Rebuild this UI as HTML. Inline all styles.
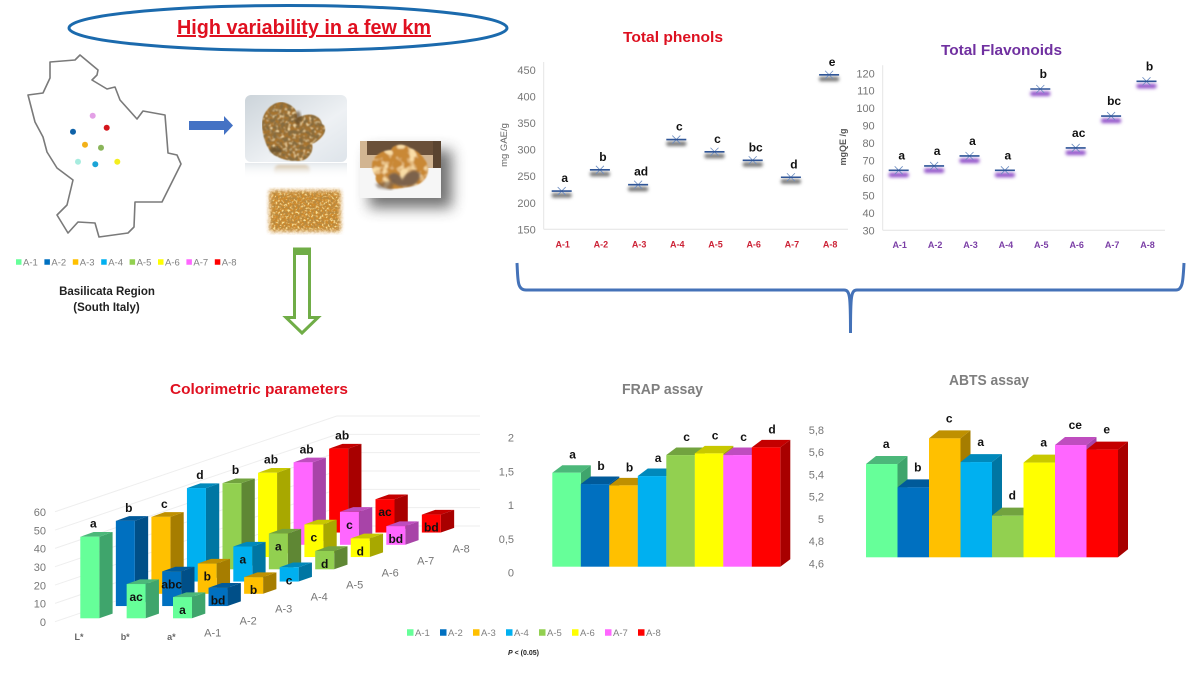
<!DOCTYPE html>
<html lang="en">
<head>
<meta charset="utf-8">
<title>High variability in a few km</title>
<style>
html,body{margin:0;padding:0;background:#fff;width:1200px;height:675px;overflow:hidden}
svg{display:block;font-family:"Liberation Sans",sans-serif}
.tick{fill:#767676;font-size:11px}
.leg{fill:#808080;font-size:9.5px}
.sig{fill:#111;font-size:12px;font-weight:700;text-anchor:middle}
</style>
</head>
<body>
<svg id="root" xmlns="http://www.w3.org/2000/svg" width="1200" height="675" viewBox="0 0 1200 675">
<defs>
<filter id="soft" x="-30%" y="-200%" width="160%" height="500%"><feGaussianBlur stdDeviation="1.5"/></filter>
<filter id="blur4" x="-40%" y="-40%" width="180%" height="180%"><feGaussianBlur stdDeviation="7"/></filter>
<filter id="blur1" x="-10%" y="-10%" width="120%" height="120%"><feGaussianBlur stdDeviation="1.3"/></filter>
<filter id="crumb" x="0" y="0" width="100%" height="100%">
<feTurbulence type="fractalNoise" baseFrequency="0.26" numOctaves="2" seed="4" result="n"/>
<feColorMatrix in="n" type="matrix" values="0 0 0 0 .24  0 0 0 0 .15  0 0 0 0 .05  2.6 2.6 0 0 -2.15" result="d"/>
<feComposite in="d" in2="SourceGraphic" operator="in" result="dd"/>
<feTurbulence type="fractalNoise" baseFrequency="0.33" numOctaves="1" seed="17" result="m"/>
<feColorMatrix in="m" type="matrix" values="0 0 0 0 .88  0 0 0 0 .68  0 0 0 0 .36  3 3 0 0 -3" result="l"/>
<feComposite in="l" in2="SourceGraphic" operator="in" result="ll"/>
<feMerge><feMergeNode in="SourceGraphic"/><feMergeNode in="ll"/><feMergeNode in="dd"/></feMerge>
<feGaussianBlur stdDeviation=".45"/>
</filter>
<filter id="lump" x="-5%" y="-5%" width="110%" height="110%">
<feTurbulence type="fractalNoise" baseFrequency="0.12" numOctaves="2" seed="8" result="n"/>
<feColorMatrix in="n" type="matrix" values="0 0 0 0 .95  0 0 0 0 .72  0 0 0 0 .38  3.2 3.2 0 0 -3.1" result="l"/>
<feComposite in="l" in2="SourceGraphic" operator="in" result="ll"/>
<feMerge><feMergeNode in="SourceGraphic"/><feMergeNode in="ll"/></feMerge>
<feGaussianBlur stdDeviation=".7"/>
</filter>
<filter id="grain" x="-10%" y="-10%" width="120%" height="120%">
<feGaussianBlur in="SourceGraphic" stdDeviation="2" result="b"/>
<feTurbulence type="fractalNoise" baseFrequency="0.42" numOctaves="2" seed="9" result="n"/>
<feColorMatrix in="n" type="matrix" values="0 0 0 0 .48  0 0 0 0 .25  0 0 0 0 .05  3.4 3.4 0 0 -3" result="d"/>
<feComposite in="d" in2="b" operator="in" result="dd"/>
<feTurbulence type="fractalNoise" baseFrequency="0.5" numOctaves="1" seed="21" result="m"/>
<feColorMatrix in="m" type="matrix" values="0 0 0 0 .97  0 0 0 0 .76  0 0 0 0 .30  3.4 3.4 0 0 -3.3" result="l"/>
<feComposite in="l" in2="b" operator="in" result="ll"/>
<feMerge><feMergeNode in="b"/><feMergeNode in="ll"/><feMergeNode in="dd"/></feMerge>
</filter>
<linearGradient id="plate" x1="0" y1="0" x2="1" y2="1"><stop offset="0" stop-color="#ccd4da"/><stop offset=".6" stop-color="#eef1f4"/><stop offset="1" stop-color="#dee4ea"/></linearGradient>
<linearGradient id="fade" x1="0" y1="0" x2="0" y2="1"><stop offset="0" stop-color="#dfe4e8" stop-opacity=".8"/><stop offset="1" stop-color="#fff" stop-opacity="0"/></linearGradient>
<linearGradient id="fadeTan" x1="0" y1="0" x2="0" y2="1"><stop offset="0" stop-color="#cdb48f" stop-opacity=".8"/><stop offset="1" stop-color="#fff" stop-opacity="0"/></linearGradient>
<clipPath id="clip-photo3"><rect x="360" y="141" width="81" height="57"/></clipPath>
</defs>

<ellipse cx="288" cy="28" rx="219" ry="22.5" fill="none" stroke="#1b6aad" stroke-width="3"/>
<text x="177" y="34" textLength="254" lengthAdjust="spacingAndGlyphs" font-size="20" font-weight="700" fill="#e01020" text-decoration="underline">High variability in a few km</text>

<g>
<polygon points="50,62 75,60 80,55 98,70 97,75 92,80 107,89 115,87 120,100 137,119 143,111 165,115 167,140 168,153 177,155 181,164 162,202 135,202 134,227 128,233 99,237 95,223 78,222 68,233 57,215 67,205 73,180 57,168 47,152 43,137 35,122 28,95 43,93 50,78" fill="#fff" stroke="#7a7a7a" stroke-width="1.6" stroke-linejoin="round"/>
<circle cx="92.7" cy="115.7" r="3" fill="#e3a0e6"/>
<circle cx="106.7" cy="127.7" r="3" fill="#d4151c"/>
<circle cx="73" cy="131.7" r="3" fill="#0f62a8"/>
<circle cx="85" cy="144.7" r="3" fill="#f2b11a"/>
<circle cx="101" cy="147.7" r="3" fill="#8ab55a"/>
<circle cx="78" cy="161.7" r="3" fill="#a7ecdf"/>
<circle cx="95.3" cy="164.3" r="3" fill="#1ba4d6"/>
<circle cx="117.3" cy="161.7" r="3" fill="#f4ee1e"/>
</g>
<g id="map-legend"></g>
<text x="107" y="295" text-anchor="middle" font-size="11.5" font-weight="700" fill="#222">Basilicata Region</text>
<text x="106.5" y="311" text-anchor="middle" font-size="11.5" font-weight="700" fill="#222">(South Italy)</text>

<polygon points="189,121 224,121 224,116 233,125.5 224,135 224,130 189,130" fill="#4472c4"/>

<g>
<rect x="245" y="95" width="102" height="67" rx="6" fill="url(#plate)"/>
<g filter="url(#crumb)">
<path d="M262 125 C262 112 272 102 282 102 C290 104 298 108 297 118 C308 112 320 114 322 124 C330 128 322 140 312 144 C314 152 308 162 296 161 C286 161 280 158 274 155 C268 150 263 140 262 125Z" fill="#a8752e"/>
</g>
<ellipse cx="298" cy="118" rx="3" ry="7" fill="#5b4322" opacity=".65" filter="url(#blur1)"/>
<ellipse cx="276" cy="150" rx="6" ry="3" fill="#5b4a2a" opacity=".7" filter="url(#blur1)"/>
<rect x="245" y="163" width="102" height="16" fill="url(#fade)"/>
<rect x="274" y="165" width="36" height="11" rx="5" fill="url(#fadeTan)" filter="url(#blur1)"/>
</g>
<g>
<rect x="369" y="150" width="83" height="58" fill="#3e3e3e" opacity=".72" filter="url(#blur4)"/>
<g clip-path="url(#clip-photo3)">
<rect x="360" y="141" width="81" height="57" fill="#f6f6f6"/>
<rect x="360" y="141" width="81" height="27" fill="#d2b592"/>
<rect x="367" y="141" width="66" height="14" fill="#6a5039"/>
<rect x="433" y="141" width="8" height="27" fill="#5a4430"/>
<path d="M373 160 C378 152 386 150 391 150 C393 144 404 143 410 148 C418 150 430 162 428 171 C428 178 420 186 412 186 C404 188 392 190 386 188 C380 186 374 182 376 176 C372 172 371 165 373 160Z" fill="#c98836" filter="url(#lump)"/>
<path d="M388 176 C394 170 400 174 402 180 C408 170 416 168 420 174 C420 182 414 186 408 186 C400 187 392 186 388 176Z" fill="#7b624c" filter="url(#blur1)"/>
<path d="M375 184 L395 180 L392 190 L378 188Z" fill="#6e5a48" opacity=".6" filter="url(#blur1)"/>
</g>
</g>
<g>
<rect x="270" y="191" width="70" height="40" fill="#d08a2c" filter="url(#grain)"/>
</g>

<g>
<path d="M294.5 249 H309.5 V317.5 H318 L302 333 L286 317.5 H294.5 Z" fill="#fff" stroke="#70ad47" stroke-width="3"/>
<rect x="293" y="248" width="18" height="7" fill="#70ad47"/>
</g>

<path d="M517 263 C518 280 517 290 526 290 H844 C850 290 850.5 296 850.5 333 C850.5 296 851 290 857 290 H1176 C1183 290 1183 280 1184 263" fill="none" stroke="#4472b8" stroke-width="3"/>

<text x="623" y="42" textLength="100" lengthAdjust="spacingAndGlyphs" font-size="15" font-weight="700" fill="#dd1020">Total phenols</text>
<text transform="translate(507 145) rotate(-90)" text-anchor="middle" font-size="9.5" fill="#666">mg GAE/g</text>
<g id="phenols-chart"></g>

<text x="941" y="55" textLength="121" lengthAdjust="spacingAndGlyphs" font-size="15" font-weight="700" fill="#7030a0">Total Flavonoids</text>
<text transform="translate(846 147) rotate(-90)" text-anchor="middle" font-size="9" font-weight="700" fill="#555">mgQE /g</text>
<g id="flavonoids-chart"></g>

<text x="170" y="394" textLength="178" lengthAdjust="spacingAndGlyphs" font-size="15" font-weight="700" fill="#e01020">Colorimetric parameters</text>
<g id="colorimetric-chart"></g>

<text x="622" y="394" textLength="81" lengthAdjust="spacingAndGlyphs" font-size="14.5" font-weight="700" fill="#7f7f7f">FRAP assay</text>
<g id="frap-chart"></g>

<text x="949" y="385" textLength="80" lengthAdjust="spacingAndGlyphs" font-size="14.5" font-weight="700" fill="#7f7f7f">ABTS assay</text>
<g id="abts-chart"></g>

<g id="bottom-legend"></g>
<text x="508" y="655" font-size="7" font-weight="700" fill="#222"><tspan font-style="italic">P</tspan> &lt; (0.05)</text>
</svg>

<script>
const categories = ['A-1','A-2','A-3','A-4','A-5','A-6','A-7','A-8'];
const phenolValues = [222,262,234,319,296,280,248,441];
const phenolLetters = ['a','b','ad','c','c','bc','d','e'];
const phenolTicks = [150,200,250,300,350,400,450];
const flavonoidValues = [64.4,66.9,72.6,64.4,111,77.2,95.5,115.4];
const flavonoidLetters = ['a','a','a','a','b','ac','bc','b'];
const flavonoidTicks = [30,40,50,60,70,80,90,100,110,120];
const frapValues = [5.446,5.344,5.332,5.416,5.605,5.62,5.605,5.674];
const frapLetters = ['a','b','b','a','c','c','c','d'];
const frapTicks = [4.6,4.8,5,5.2,5.4,5.6,5.8];
const abtsValues = [5.312,5.134,5.508,5.327,4.918,5.323,5.457,5.422];
const abtsLetters = ['a','b','c','a','d','a','ce','e'];
const lValues = [44.5,46.5,42,51,47,46,45,45.8];
const lLetters = ['a','b','c','d','b','ab','ab','ab'];
const bValues = [18.7,18.9,16.5,19.1,19.5,17.8,18,18.2];
const bLetters = ['ac','abc','b','a','a','c','c','ac'];
const aValues = [11.6,10,9.1,7.8,10,10.2,10.2,9.8];
const aLetters = ['a','bd','b','c','d','d','bd','bd'];
const colorLeftTicks = [0,10,20,30,40,50,60];
const colorRightTicks = [0,0.5,1,1.5,2];
const rowNames = ['L*','b*','a*'];

const frontColors = ['#66FF99','#0070C0','#FFC000','#00B0F0','#92D050','#FFFF00','#FF66FF','#FF0000'];
const sideColors = ['#3fa56c','#004f88','#a67d00','#0076a3','#5f8734','#a8a800','#a844a8','#a80000'];
const topColors = ['#4cb87a','#005a9a','#bf9000','#0089bb','#72a33f','#c8c800','#bf4dbf','#c40000'];

const NS = 'http://www.w3.org/2000/svg';
function make(tag, attrs, parent, text) {
  const el = document.createElementNS(NS, tag);
  for (const k in attrs) el.setAttribute(k, attrs[k]);
  if (text !== undefined) el.textContent = text;
  parent.appendChild(el);
  return el;
}
function comma(v) { return String(v).replace('.', ','); }

function drawLegend(parent, startX, stepX, y, size) {
  categories.forEach(function (c, i) {
    const sw = make('rect', {x: startX + i * stepX, y: y - size / 2, width: size, height: size, fill: frontColors[i]}, parent);
    
    
    const t = make('text', {x: startX + i * stepX + size + 1.5, y: y + 3.5, class: 'leg'}, parent, c);
    
    
  });
}
drawLegend(document.getElementById('map-legend'), 16, 28.4, 262, 5.5);
drawLegend(document.getElementById('bottom-legend'), 407, 33, 632.5, 6.5);

function drawBox(parent, left, width, bottom, top, dx, dy, i) {
  const right = left + width;
  const side = make('polygon', {points: [right,bottom, right+dx,bottom-dy, right+dx,top-dy, right,top].join(' '), fill: sideColors[i]}, parent);
  
  
  const roof = make('polygon', {points: [left,top, right,top, right+dx,top-dy, left+dx,top-dy].join(' '), fill: topColors[i]}, parent);
  
  
  const front = make('rect', {x: left, y: top, width: width, height: bottom - top, fill: frontColors[i]}, parent);
  
  
}

function drawDotChart(id, values, letters, ticks, opt) {
  const g = document.getElementById(id);
  const yScale = function (v) { return opt.y0 - (v - opt.min) / (opt.max - opt.min) * opt.ySpan; };
  const xScale = function (i) { return opt.x0 + i * opt.step; };
  const yAxis = make('line', {x1: opt.axisX, x2: opt.axisX, y1: yScale(opt.max) - 8, y2: opt.y0, stroke: '#e4e4e4'}, g);
  
  
  const xAxis = make('line', {x1: opt.axisX, x2: opt.axisEnd, y1: opt.y0, y2: opt.y0, stroke: '#e4e4e4'}, g);
  
  
  ticks.forEach(function (t) {
    const el = make('text', {x: opt.axisX - 8, y: yScale(t) + 4, 'text-anchor': 'end', class: 'tick'}, g, t);
    
    
  });
  categories.forEach(function (c, i) {
    const x = xScale(i), y = yScale(values[i]);
    const lab = make('text', {x: x + 1, y: opt.catY, 'text-anchor': 'middle', 'font-size': 9, 'font-weight': 700, fill: opt.catColor}, g, c);
    
    
    const sh = make('rect', {x: x - 10, y: y + opt.shadowGap, width: 20, height: 4.5, rx: 2, fill: opt.shadow, filter: 'url(#soft)'}, g);
    
    
    const x1 = make('line', {x1: x - 4, x2: x + 4, y1: y - 4, y2: y + 4, stroke: '#6c8cc0', 'stroke-width': .8}, g);
    
    
    const x2 = make('line', {x1: x - 4, x2: x + 4, y1: y + 4, y2: y - 4, stroke: '#6c8cc0', 'stroke-width': .8}, g);
    
    
    const mean = make('line', {x1: x - 10, x2: x + 10, y1: y, y2: y, stroke: '#2f5597', 'stroke-width': 1.6}, g);
    
    
    const sig = make('text', {x: x + 3, y: y - opt.labelGap, class: 'sig'}, g, letters[i]);
    
    
  });
}
drawDotChart('phenols-chart', phenolValues, phenolLetters, phenolTicks, {min: 150, max: 450, y0: 229.3, ySpan: 159.3, x0: 561.7, step: 38.2, axisX: 543.7, axisEnd: 848, catY: 247.5, catColor: '#cc2236', shadow: '#777', shadowGap: 2, labelGap: 9});
drawDotChart('flavonoids-chart', flavonoidValues, flavonoidLetters, flavonoidTicks, {min: 30, max: 120, y0: 230.3, ySpan: 157, x0: 898.7, step: 35.4, axisX: 882.7, axisEnd: 1165, catY: 248, catColor: '#7b3fa6', shadow: '#9050c8', shadowGap: 2.5, labelGap: 11});

function drawFlatBars(id, values, letters, opt) {
  const g = document.getElementById(id);
  const yScale = function (v) { return opt.y0 - (v - opt.min) / (opt.max - opt.min) * opt.ySpan; };
  categories.forEach(function (c, i) {
    drawBox(g, opt.x0 + i * opt.w, opt.w, opt.y0, yScale(values[i]), opt.dx, opt.dy, i);
  });
  categories.forEach(function (c, i) {
    const sig = make('text', {x: opt.x0 + (i + .5) * opt.w + opt.labelDx, y: yScale(values[i]) - opt.labelGap, class: 'sig'}, g, letters[i]);
    
    
  });
}
drawFlatBars('frap-chart', frapValues, frapLetters, {min: 4.6, max: 5.8, y0: 566.7, ySpan: 133.3, x0: 552.3, w: 28.5, dx: 10, dy: 7.5, labelDx: 6, labelGap: 14});
drawFlatBars('abts-chart', abtsValues, abtsLetters, {min: 4.6, max: 5.8, y0: 557.3, ySpan: 157.2, x0: 866, w: 31.5, dx: 10, dy: 8, labelDx: 4.5, labelGap: 16});

const frapAxis = document.getElementById('frap-chart');
frapTicks.forEach(function (t) {
  const y = 563.3 - (t - 4.6) / 1.2 * 133.3;
  const el = make('text', {x: 824, y: y + 4, 'text-anchor': 'end', class: 'tick'}, frapAxis, comma(t));
  
  
});

const colorG = document.getElementById('colorimetric-chart');
const wallX0 = 55, wallX1 = 336.7, wallEnd = 480, wallStep = 18.33;
colorLeftTicks.forEach(function (t) {
  const yL = 621.7 - t * wallStep / 10;
  const yR = 526 - t * wallStep / 10;
  const grid = make('polyline', {points: [wallX0,yL, wallX1,yR, wallEnd,yR].join(' '), fill: 'none', stroke: '#eeeeee'}, colorG);
  
  
  const el = make('text', {x: 46, y: yL + 4.3, 'text-anchor': 'end', class: 'tick'}, colorG, t);
  
  
});
colorRightTicks.forEach(function (t) {
  const el = make('text', {x: 514, y: 576.5 - t * 67.5, 'text-anchor': 'end', class: 'tick'}, colorG, comma(t));
  
  
});
categories.forEach(function (c, i) {
  const el = make('text', {x: 212.7 + i * 35.5, y: 636.5 - i * 12, 'text-anchor': 'middle', class: 'tick'}, colorG, c);
  
  
});
rowNames.forEach(function (r, k) {
  const el = make('text', {x: 79 + k * 46.2, y: 640, 'text-anchor': 'middle', 'font-size': 9, 'font-weight': 700, fill: '#666'}, colorG, r);
  
  
});
const rowValues = [lValues, bValues, aValues];
const rowLetters = [lLetters, bLetters, aLetters];
function rowX(k, i) { return 80.3 + k * 46.35 + i * 35.55; }
function rowBase(i) { return 618.3 - i * 12.25; }
function barHeight(v) { return v * 1.833; }
rowValues.forEach(function (vals, k) {
  for (let i = vals.length - 1; i >= 0; i--) {
    const base = rowBase(i), top = base - barHeight(vals[i]);
    drawBox(colorG, rowX(k, i), 19, base, top, 13.3, 4.7, i);
    const y = k === 0 ? top - 9 : top + 17;
    const x = rowX(k, i) + 9.5 + (k === 0 ? 3.5 : 0);
    const sig = make('text', {x: x, y: y, class: 'sig'}, colorG, rowLetters[k][i]);
    
    
  }
});
</script>
</body>
</html>
